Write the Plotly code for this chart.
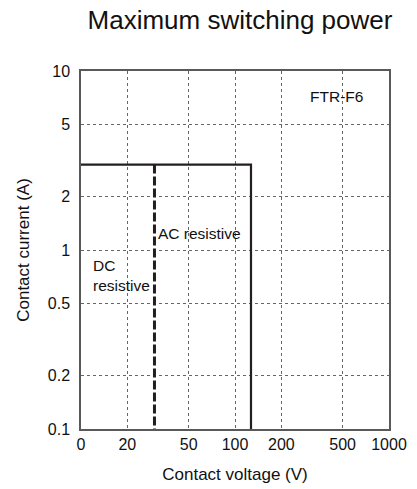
import plotly.graph_objects as go

# Data
x_ticks = [10, 20, 50, 100, 200, 500, 1000]
x_ticktext = ["0", "20", "50", "100", "200", "500", "1000"]
y_ticks = [0.1, 0.2, 0.5, 1, 2, 5, 10]
y_ticktext = ["0.1", "0.2", "0.5", "1", "2", "5", "10"]

dc_voltage = [10, 127, 127]
dc_current = [3, 3, 0.1]
ac_voltage = [30, 30]
ac_current = [3, 0.1]

FONT = "Liberation Sans, Arial, sans-serif"
TXT = "#111111"

W, H = 417, 489

fig = go.Figure()
fig.add_trace(go.Scatter(x=dc_voltage, y=dc_current, mode="lines",
                         line=dict(color="#231f20", width=2.2), showlegend=False))
fig.add_trace(go.Scatter(x=ac_voltage, y=ac_current, mode="lines",
                         line=dict(color="#231f20", width=3, dash="9px,3px"), showlegend=False))

axis_common = dict(showline=True, mirror=True, linecolor="#595959", linewidth=1.5,
                   showgrid=True, gridcolor="#666666", gridwidth=1, griddash="3px,3px",
                   ticks="", zeroline=False, automargin=False,
                   tickfont=dict(family=FONT, size=16, color=TXT))

fig.update_xaxes(type="log", range=[1, 3], tickvals=x_ticks, ticktext=x_ticktext,
                 ticklabelstandoff=0,
                 title=dict(text="Contact voltage (V)", font=dict(family=FONT, size=17, color=TXT),
                            standoff=16),
                 **axis_common)
fig.update_yaxes(type="log", range=[-1, 1], tickvals=y_ticks, ticktext=y_ticktext,
                 ticklabelstandoff=6,
                 title=dict(text="Contact current (A)", font=dict(family=FONT, size=17, color=TXT),
                            standoff=14),
                 **axis_common)

ann_font = dict(family=FONT, size=15.5, color=TXT)
fig.add_annotation(x=2.662, y=0.855, xref="x", yref="y", text="FTR-F6", showarrow=False,
                   font=ann_font, xanchor="center", yanchor="middle")
fig.add_annotation(x=1.49, y=0.095, xref="x", yref="y", text="AC resistive", showarrow=False,
                   font=ann_font, xanchor="left", yanchor="middle")
fig.add_annotation(x=1.065, y=-0.14, xref="x", yref="y", text="DC<br>resistive", showarrow=False,
                   font=ann_font, xanchor="left", yanchor="middle", align="left")

fig.update_layout(
    width=W, height=H,
    margin=dict(l=81, r=28, t=71, b=60),
    paper_bgcolor="white", plot_bgcolor="white",
    title=dict(text="Maximum switching power", x=240 / W, xanchor="center",
               y=1 - 20 / H, yanchor="middle",
               font=dict(family=FONT, size=26, color=TXT)),
)

fig.write_html("out.html", config={"displayModeBar": False},
               post_script="document.body.style.margin='0';document.body.style.overflow='hidden';")
